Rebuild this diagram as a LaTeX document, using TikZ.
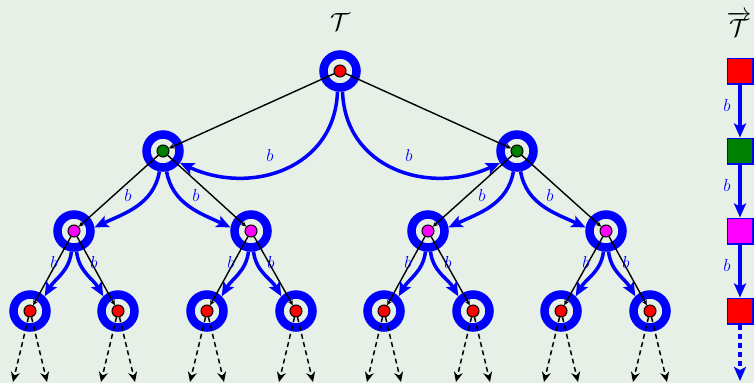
\documentclass[tikz,border=0pt]{standalone}
\usetikzlibrary{arrows.meta}
\definecolor{bg}{RGB}{230,240,230}
\definecolor{dgreen}{RGB}{0,128,0}
\definecolor{mag}{RGB}{255,0,255}
\definecolor{pred}{RGB}{255,0,0}
\definecolor{pblue}{RGB}{0,0,255}
\begin{document}
\begin{tikzpicture}[x=1pt,y=1pt,
 ring/.style={circle, draw=pblue, line width=8.5pt, minimum size=33pt, inner sep=0pt},
 dot/.style={circle, draw=black, line width=1pt, minimum size=12pt, inner sep=0pt},
 tedge/.style={black, line width=1.4pt, -{Stealth[length=5.5pt,width=5pt]}},
 dedge/.style={black, line width=1.5pt, dash pattern=on 5pt off 3.5pt, -{Stealth[length=10pt,width=9pt]}},
 barrow/.style={pblue, line width=3.5pt, -{Stealth[length=14pt,width=12pt,inset=3pt]}},
 blab/.style={text=pblue, font=\fontsize{16}{18}\selectfont},
 ttl/.style={font=\fontsize{25}{28}\selectfont},
 sq/.style={rectangle, draw=pblue, line width=1.5pt, minimum size=25.5pt, inner sep=0pt},
]
\fill[bg] (0,0) rectangle (754,-383);
\useasboundingbox (0,0) rectangle (754,-383);
\clip (0,0) rectangle (754,-383);

\node[ttl] (title) at (340,-22) {$\mathcal{T}$};
\node[ttl] (title2) at (739,-24) {$\overrightarrow{\mathcal{T}}$};

% rings
\foreach \n/\x/\y in {r/340/71, a/163/151, b/517/151,
  c/74/231, d/251/231, e/428/231, f/606/231,
  g/30/311, h/118/311, i/207/311, j/296/311, k/384/311, l/473/311, m/561/311, n/650/311}
  { \node[ring] (R\n) at (\x,-\y) {}; }

% dots
\node[dot, fill=pred] (r) at (340,-71) {};
\node[dot, fill=dgreen] (a) at (163,-151) {};
\node[dot, fill=dgreen] (b) at (517,-151) {};
\foreach \n/\x in {c/74, d/251, e/428, f/606}
  { \node[dot, fill=mag] (\n) at (\x,-231) {}; }
\foreach \n/\x in {g/30, h/118, i/207, j/296, k/384, l/473, m/561, n/650}
  { \node[dot, fill=pred] (\n) at (\x,-311) {}; }

% tree edges
\foreach \p/\c in {r/a, r/b, a/c, a/d, b/e, b/f, c/g, c/h, d/i, d/j, e/k, e/l, f/m, f/n}
  { \draw[tedge] (\p) -- (\c); }

% dashed continuation
\foreach \n/\x in {g/30, h/118, i/207, j/296, k/384, l/473, m/561, n/650}
  { \coordinate (\n L) at (\x-17,-382);
    \coordinate (\n R) at (\x+17,-382);
    \draw[dedge] (\n) -- (\n L);
    \draw[dedge] (\n) -- (\n R); }

% blue b-arrows
\draw[barrow] (Rr.-97) to[out=-92, in=-25, looseness=1.15] (Ra.-35);
\draw[barrow] (Rr.-83) to[out=-88, in=-155, looseness=1.15] (Rb.-145);
\node[blab] (lb1) at (270,-155) {$b$};
\node[blab] (lb2) at (409,-155) {$b$};

\foreach \p/\l/\rr/\x in {a/c/d/163, b/e/f/517}
{
  \draw[barrow] (R\p.-100) to[out=-100, in=25] (R\l.10);
  \draw[barrow] (R\p.-80) to[out=-80, in=155] (R\rr.170);
  \node[blab] at (\x-35,-195) {$b$};
  \node[blab] at (\x+33,-195) {$b$};
}
\foreach \p/\l/\rr/\x in {c/g/h/74, d/i/j/251, e/k/l/428, f/m/n/606}
{
  \draw[barrow] (R\p.-97) to[out=-97, in=60] (R\l.45);
  \draw[barrow] (R\p.-83) to[out=-83, in=120] (R\rr.135);
  \node[blab] at (\x-20,-262) {$b$};
  \node[blab] at (\x+20,-262) {$b$};
}

% right column
\node[sq, fill=pred] (s1) at (740,-71) {};
\node[sq, fill=dgreen] (s2) at (740,-151) {};
\node[sq, fill=mag] (s3) at (740,-231) {};
\node[sq, fill=pred] (s4) at (740,-311) {};
\coordinate (send) at (740,-381);
\draw[barrow] (s1) -- (s2);
\draw[barrow] (s2) -- (s3);
\draw[barrow] (s3) -- (s4);
\draw[barrow, dash pattern=on 5pt off 4pt] (s4) -- (send);
\node[blab] at (727,-105) {$b$};
\node[blab] at (727,-185) {$b$};
\node[blab] at (727,-265) {$b$};
\end{tikzpicture}
\end{document}
